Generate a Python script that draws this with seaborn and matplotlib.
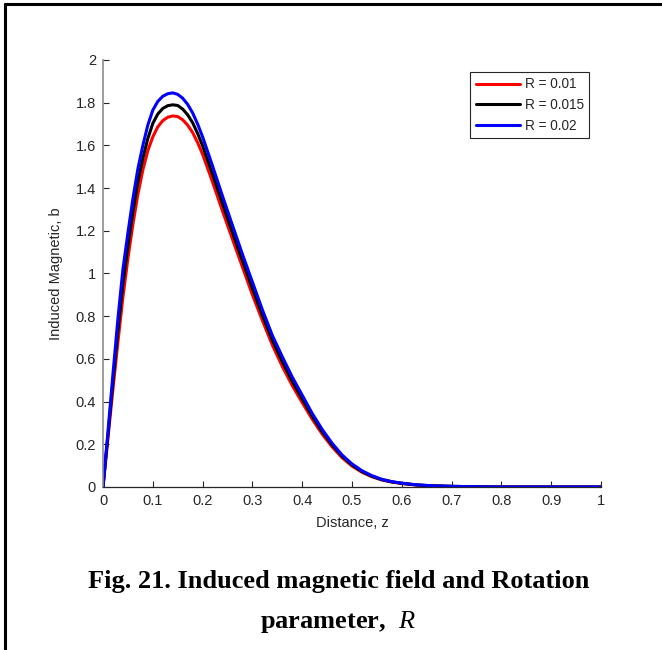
import numpy as np
import matplotlib
matplotlib.use('Agg')
import matplotlib.pyplot as plt
import seaborn as sns
import pandas as pd
from matplotlib.lines import Line2D
from matplotlib.ticker import FuncFormatter

# 数据：从图中读取
z = [0, 0.01, 0.02, 0.03, 0.04, 0.05, 0.06, 0.07, 0.08, 0.09, 0.10, 0.11, 0.12,
     0.13, 0.14, 0.15, 0.16, 0.17, 0.18, 0.19, 0.20, 0.22, 0.24, 0.26, 0.28, 0.30,
     0.32, 0.34, 0.36, 0.38, 0.40, 0.42, 0.44, 0.46, 0.48, 0.50, 0.52, 0.54, 0.56,
     0.58, 0.60, 0.63, 0.66, 0.70, 0.75, 0.80, 0.90, 1.00]

b_r001 = [0, 0.23, 0.46, 0.68, 0.89, 1.07, 1.23, 1.37, 1.485, 1.575, 1.64, 1.687, 1.716,
          1.732, 1.738, 1.735, 1.72, 1.695, 1.66, 1.613, 1.558, 1.428, 1.292, 1.16, 1.03, 0.90,
          0.78, 0.665, 0.565, 0.475, 0.395, 0.318, 0.248, 0.188, 0.137, 0.098, 0.069, 0.048, 0.033,
          0.023, 0.016, 0.009, 0.005, 0.0025, 0.001, 0, 0, 0]

b_r0015 = [0, 0.245, 0.495, 0.735, 0.955, 1.13, 1.29, 1.43, 1.54, 1.632, 1.703, 1.747, 1.773,
           1.786, 1.79, 1.787, 1.77, 1.743, 1.706, 1.656, 1.598, 1.465, 1.327, 1.192, 1.06, 0.93,
           0.805, 0.688, 0.588, 0.495, 0.412, 0.332, 0.259, 0.197, 0.144, 0.103, 0.072, 0.05, 0.034,
           0.024, 0.017, 0.0095, 0.0055, 0.003, 0.001, 0, 0, 0]

b_r002 = [0, 0.26, 0.53, 0.79, 1.02, 1.19, 1.35, 1.49, 1.60, 1.695, 1.765, 1.806, 1.83,
          1.842, 1.846, 1.839, 1.821, 1.792, 1.752, 1.70, 1.64, 1.503, 1.362, 1.225, 1.09, 0.96,
          0.83, 0.71, 0.61, 0.515, 0.43, 0.345, 0.27, 0.205, 0.15, 0.108, 0.076, 0.053, 0.036,
          0.025, 0.018, 0.010, 0.006, 0.003, 0.001, 0, 0, 0]

labels = ['R = 0.01', 'R = 0.015', 'R = 0.02']
colors = ['#ff0000', '#000000', '#0000ff']

df = pd.DataFrame({
    'z': z * 3,
    'b': b_r001 + b_r0015 + b_r002,
    'R': [labels[0]] * len(z) + [labels[1]] * len(z) + [labels[2]] * len(z),
})

sns.set_style('ticks')
plt.rcParams['font.family'] = ['Liberation Sans', 'DejaVu Sans']
plt.rcParams['mathtext.fontset'] = 'custom'
plt.rcParams['mathtext.it'] = 'Liberation Serif:italic'
plt.rcParams['mathtext.rm'] = 'Liberation Serif'

fig = plt.figure(figsize=(6.62, 6.5), dpi=100)
ax = fig.add_axes([0.1556, 0.2508, 0.7523, 0.6569])

sns.lineplot(data=df, x='z', y='b', hue='R', palette=colors, linewidth=2.2,
             ax=ax, legend=False)

ax.set_xlim(0, 1)
ax.set_ylim(0, 2)
ax.set_xticks(np.arange(0, 1.01, 0.1))
ax.set_yticks(np.arange(0, 2.01, 0.2))
fmt = FuncFormatter(lambda v, p: '%g' % round(v, 2))
ax.xaxis.set_major_formatter(fmt)
ax.yaxis.set_major_formatter(fmt)
ax.tick_params(direction='in', length=4, width=0.8, labelsize=10.5, colors='#262626', pad=5)
ax.spines['top'].set_visible(False)
ax.spines['right'].set_visible(False)
ax.spines['left'].set_color('#8c8c8c')
ax.spines['bottom'].set_color('#262626')
ax.spines['left'].set_linewidth(1.2)
ax.spines['bottom'].set_linewidth(0.9)
ax.set_xlabel('Distance, z', fontsize=10.5, color='#262626', labelpad=6)
ax.set_ylabel('Induced Magnetic, b', fontsize=10.5, color='#262626', labelpad=9)

handles = [Line2D([0], [0], color=c, lw=2.2) for c in colors]
leg = ax.legend(handles, labels, loc='upper right', bbox_to_anchor=(0.976, 0.972),
                borderaxespad=0, fontsize=9.8, handlelength=3.3, handletextpad=0.3,
                labelspacing=0.5, borderpad=0.4, fancybox=False, framealpha=1)
leg.get_frame().set_edgecolor('#262626')
leg.get_frame().set_linewidth(0.8)
for t in leg.get_texts():
    t.set_color('#262626')

# 图注
fig.text(0.512, 0.105, 'Fig. 21. Induced magnetic field and Rotation', ha='center', va='center',
         fontsize=19, fontweight='bold', family='Liberation Serif', color='black')
fig.text(0.511, 0.043, r'parameter,  $R$', ha='center', va='center',
         fontsize=19, fontweight='bold', family='Liberation Serif', color='black')

# 外框
fig.add_artist(Line2D([0.0075, 0.0075], [0, 0.994], transform=fig.transFigure, color='black', lw=2.2))
fig.add_artist(Line2D([0.0075, 1], [0.994, 0.994], transform=fig.transFigure, color='black', lw=2.2))

fig.savefig('out.png', dpi=100)
